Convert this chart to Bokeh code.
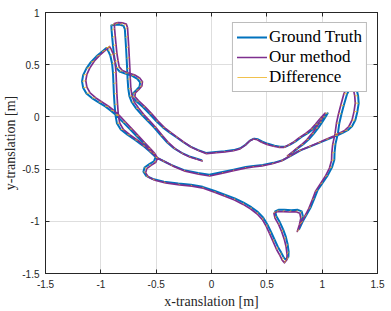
from bokeh.plotting import figure
from bokeh.models import FixedTicker, LinearAxis
from bokeh.embed import file_html
from bokeh.resources import INLINE

# ---------------- data ----------------
x_ticks = [-1.5, -1.0, -0.5, 0.0, 0.5, 1.0, 1.5]
x_tick_labels = ["-1.5", "-1", "-0.5", "0", "0.5", "1", "1.5"]
y_ticks = [-1.5, -1.0, -0.5, 0.0, 0.5, 1.0]
y_tick_labels = ["-1.5", "-1", "-0.5", "0", "0.5", "1"]

# first trajectory piece (end B -> C1 -> upper band -> tall loop -> end A)
path_gt_x = [0.700, 0.740, 0.780, 0.830, 0.880, 0.925, 0.965, 1.000, 1.030, 1.050,
             1.000, 0.960, 0.920, 0.870, 0.810, 0.760, 0.710, 0.670, 0.620, 0.570,
             0.510, 0.460, 0.420, 0.385, 0.350, 0.310, 0.260, 0.200, 0.120, 0.040,
             -0.050, -0.120, -0.190, -0.260, -0.320, -0.380, -0.440, -0.500, -0.560, -0.620,
             -0.680, -0.715, -0.710, -0.680, -0.650, -0.645, -0.670, -0.720, -0.780, -0.830,
             -0.860, -0.872, -0.882, -0.890, -0.897, -0.903, -0.905, -0.870, -0.825, -0.795,
             -0.783, -0.778, -0.772, -0.767, -0.762, -0.758, -0.752, -0.742, -0.720, -0.680,
             -0.630, -0.580, -0.520, -0.460, -0.400, -0.340, -0.270, -0.200, -0.140, -0.090]
path_gt_y = [-0.366, -0.335, -0.300, -0.262, -0.215, -0.160, -0.105, -0.050, 0.000, 0.035,
             -0.020, -0.070, -0.115, -0.156, -0.195, -0.235, -0.265, -0.285, -0.285, -0.275,
             -0.258, -0.238, -0.215, -0.208, -0.225, -0.265, -0.300, -0.318, -0.328, -0.336,
             -0.345, -0.318, -0.285, -0.238, -0.192, -0.148, -0.100, -0.040, 0.030, 0.095,
             0.150, 0.190, 0.225, 0.255, 0.290, 0.330, 0.365, 0.395, 0.415, 0.435,
             0.470, 0.530, 0.600, 0.680, 0.760, 0.830, 0.875, 0.885, 0.882, 0.872,
             0.840, 0.760, 0.660, 0.560, 0.460, 0.360, 0.270, 0.200, 0.140, 0.080,
             0.020, -0.035, -0.100, -0.175, -0.245, -0.300, -0.345, -0.378, -0.398, -0.414]
path_est_x = [0.686, 0.725, 0.764, 0.812, 0.861, 0.905, 0.944, 0.978, 1.007, 1.027,
              0.978, 0.939, 0.900, 0.851, 0.793, 0.744, 0.695, 0.656, 0.608, 0.559,
              0.501, 0.452, 0.413, 0.379, 0.345, 0.306, 0.257, 0.199, 0.121, 0.043,
              -0.045, -0.113, -0.181, -0.249, -0.308, -0.366, -0.425, -0.483, -0.542, -0.600,
              -0.658, -0.693, -0.688, -0.658, -0.629, -0.624, -0.649, -0.697, -0.756, -0.805,
              -0.834, -0.845, -0.855, -0.863, -0.870, -0.876, -0.878, -0.844, -0.800, -0.770,
              -0.759, -0.754, -0.748, -0.743, -0.738, -0.734, -0.729, -0.719, -0.698, -0.658,
              -0.610, -0.561, -0.503, -0.444, -0.386, -0.327, -0.259, -0.191, -0.132, -0.084]
path_est_y = [-0.373, -0.342, -0.306, -0.267, -0.219, -0.163, -0.107, -0.051, 0.000, 0.036,
              -0.020, -0.071, -0.117, -0.159, -0.199, -0.240, -0.270, -0.291, -0.291, -0.281,
              -0.263, -0.243, -0.219, -0.212, -0.230, -0.270, -0.306, -0.324, -0.335, -0.343,
              -0.352, -0.324, -0.291, -0.243, -0.196, -0.151, -0.102, -0.041, 0.031, 0.097,
              0.153, 0.194, 0.230, 0.260, 0.296, 0.337, 0.372, 0.403, 0.423, 0.444,
              0.479, 0.541, 0.612, 0.694, 0.775, 0.847, 0.893, 0.903, 0.900, 0.889,
              0.857, 0.775, 0.673, 0.571, 0.469, 0.367, 0.275, 0.204, 0.143, 0.082,
              0.020, -0.036, -0.102, -0.179, -0.250, -0.306, -0.352, -0.386, -0.406, -0.422]

# second trajectory piece (left cusp -> big left bulge -> long diagonal -> small loop
# -> right side -> C2 -> lower band -> back to left cusp)
loop_gt_x = [-0.950, -0.990, -1.040, -1.090, -1.130, -1.160, -1.170, -1.160, -1.130, -1.080,
             -1.020, -0.960, -0.910, -0.860, -0.800, -0.740, -0.680, -0.620, -0.570, -0.530,
             -0.505, -0.520, -0.565, -0.605, -0.615, -0.590, -0.530, -0.430, -0.300, -0.185,
             -0.080, 0.030, 0.120, 0.210, 0.290, 0.360, 0.420, 0.468, 0.505, 0.537,
             0.568, 0.600, 0.630, 0.652, 0.672, 0.695, 0.697, 0.688, 0.672, 0.648,
             0.618, 0.585, 0.575, 0.605, 0.660, 0.720, 0.780, 0.815, 0.825, 0.812,
             0.792, 0.825, 0.860, 0.898, 0.930, 0.960, 1.005, 1.050, 1.090, 1.110,
             1.112, 1.120, 1.142, 1.155, 1.175, 1.195, 1.225, 1.255, 1.277, 1.310,
             1.325, 1.330, 1.318, 1.300, 1.270, 1.232, 1.190, 1.142, 1.060, 0.988,
             0.900, 0.808, 0.720, 0.644, 0.560, 0.464, 0.380, 0.310, 0.200, 0.100,
             -0.020, -0.122, -0.248, -0.365, -0.440, -0.505, -0.560, -0.620, -0.690, -0.760,
             -0.820, -0.855, -0.868, -0.876, -0.882, -0.886, -0.890, -0.898, -0.915, -0.935,
             -0.950]
loop_gt_y = [0.660, 0.625, 0.580, 0.525, 0.465, 0.400, 0.340, 0.280, 0.225, 0.180,
             0.140, 0.100, 0.060, 0.015, -0.050, -0.115, -0.180, -0.245, -0.300, -0.345,
             -0.385, -0.425, -0.455, -0.485, -0.525, -0.565, -0.595, -0.620, -0.638, -0.650,
             -0.670, -0.710, -0.745, -0.780, -0.822, -0.865, -0.912, -0.965, -1.030, -1.100,
             -1.172, -1.245, -1.300, -1.345, -1.370, -1.340, -1.290, -1.220, -1.150, -1.080,
             -1.010, -0.950, -0.905, -0.890, -0.890, -0.893, -0.890, -0.905, -0.950, -1.010,
             -1.075, -1.000, -0.935, -0.862, -0.780, -0.700, -0.630, -0.560, -0.480, -0.410,
             -0.340, -0.260, -0.160, -0.060, 0.030, 0.110, 0.220, 0.280, 0.305, 0.270,
             0.200, 0.130, 0.050, -0.030, -0.090, -0.127, -0.150, -0.175, -0.210, -0.242,
             -0.280, -0.318, -0.370, -0.414, -0.440, -0.460, -0.470, -0.480, -0.505, -0.528,
             -0.555, -0.538, -0.510, -0.460, -0.420, -0.385, -0.330, -0.275, -0.220, -0.170,
             -0.120, -0.060, 0.020, 0.120, 0.220, 0.320, 0.420, 0.510, 0.590, 0.635,
             0.660]
loop_est_x = [-0.921, -0.960, -1.009, -1.058, -1.097, -1.126, -1.136, -1.126, -1.097, -1.048,
              -0.990, -0.931, -0.882, -0.834, -0.775, -0.717, -0.658, -0.600, -0.551, -0.512,
              -0.488, -0.503, -0.546, -0.585, -0.595, -0.571, -0.512, -0.415, -0.288, -0.176,
              -0.074, 0.033, 0.121, 0.208, 0.286, 0.355, 0.413, 0.460, 0.496, 0.527,
              0.557, 0.588, 0.618, 0.639, 0.659, 0.681, 0.683, 0.674, 0.658, 0.635,
              0.606, 0.574, 0.564, 0.593, 0.647, 0.705, 0.764, 0.798, 0.807, 0.795,
              0.775, 0.807, 0.842, 0.879, 0.910, 0.939, 0.983, 1.027, 1.066, 1.085,
              1.087, 1.095, 1.116, 1.129, 1.148, 1.168, 1.197, 1.226, 1.248, 1.280,
              1.294, 1.299, 1.288, 1.270, 1.241, 1.204, 1.163, 1.116, 1.036, 0.966,
              0.880, 0.791, 0.705, 0.631, 0.549, 0.456, 0.374, 0.306, 0.199, 0.101,
              -0.016, -0.115, -0.238, -0.352, -0.425, -0.488, -0.541, -0.600, -0.668, -0.736,
              -0.795, -0.829, -0.842, -0.849, -0.855, -0.859, -0.863, -0.871, -0.887, -0.907,
              -0.921]
loop_est_y = [0.673, 0.638, 0.592, 0.536, 0.474, 0.408, 0.347, 0.286, 0.230, 0.184,
              0.143, 0.102, 0.061, 0.015, -0.051, -0.117, -0.184, -0.250, -0.306, -0.352,
              -0.393, -0.434, -0.464, -0.495, -0.536, -0.576, -0.607, -0.632, -0.651, -0.663,
              -0.683, -0.724, -0.760, -0.796, -0.838, -0.882, -0.930, -0.984, -1.051, -1.122,
              -1.195, -1.270, -1.326, -1.372, -1.397, -1.367, -1.316, -1.244, -1.173, -1.102,
              -1.030, -0.969, -0.923, -0.908, -0.908, -0.911, -0.908, -0.923, -0.969, -1.030,
              -1.097, -1.020, -0.954, -0.879, -0.796, -0.714, -0.643, -0.571, -0.490, -0.418,
              -0.347, -0.265, -0.163, -0.061, 0.031, 0.112, 0.224, 0.286, 0.311, 0.275,
              0.204, 0.133, 0.051, -0.031, -0.092, -0.130, -0.153, -0.179, -0.214, -0.247,
              -0.286, -0.324, -0.377, -0.422, -0.449, -0.469, -0.479, -0.490, -0.515, -0.539,
              -0.566, -0.549, -0.520, -0.469, -0.428, -0.393, -0.337, -0.281, -0.224, -0.173,
              -0.122, -0.061, 0.020, 0.122, 0.224, 0.326, 0.428, 0.520, 0.602, 0.648,
              0.673]

# ---------------- figure ----------------
AX = "#262626"
p = figure(width=391, height=311, x_range=(-1.5, 1.5), y_range=(-1.5, 1.0),
           output_backend="svg", toolbar_location=None,
           min_border_left=44, min_border_right=14, min_border_top=12, min_border_bottom=37)
p.background_fill_color = "white"
p.border_fill_color = "white"
p.outline_line_color = AX
p.outline_line_width = 1

p.multi_line([path_gt_x, loop_gt_x], [path_gt_y, loop_gt_y], line_color="#0072BD",
             line_width=2.0, line_join="round", line_cap="round", legend_label="Ground Truth")
p.multi_line([path_est_x, loop_est_x], [path_est_y, loop_est_y], line_color="#7E2F8E",
             line_width=1.7, line_join="round", line_cap="round", legend_label="Our method")
p.segment(x0=path_gt_x + loop_gt_x, y0=path_gt_y + loop_gt_y,
          x1=path_est_x + loop_est_x, y1=path_est_y + loop_est_y,
          line_color="#EDB120", line_width=1, line_alpha=0.8, legend_label="Difference")

# axes
p.xaxis.ticker = FixedTicker(ticks=x_ticks)
p.yaxis.ticker = FixedTicker(ticks=y_ticks)
p.xaxis.major_label_overrides = {v: s for v, s in zip(x_ticks, x_tick_labels)}
p.yaxis.major_label_overrides = {v: s for v, s in zip(y_ticks, y_tick_labels)}
for ax in (p.xaxis, p.yaxis):
    ax.axis_line_color = AX
    ax.major_tick_line_color = AX
    ax.major_tick_in = 4
    ax.major_tick_out = 0
    ax.minor_tick_line_color = None
    ax.major_label_text_font = "Liberation Sans"
    ax.major_label_text_font_size = "10px"
    ax.major_label_text_color = AX
    ax.major_label_standoff = 6
    ax.axis_label_text_font = "Liberation Serif"
    ax.axis_label_text_font_style = "normal"
    ax.axis_label_text_font_size = "14px"
    ax.axis_label_text_color = AX
p.xaxis.axis_label = "x-translation [m]"
p.xaxis.axis_label_standoff = 3
p.yaxis.axis_label = "y-translation [m]"
p.yaxis.axis_label_standoff = 1

# box ticks on top and right (no labels)
top_ax = LinearAxis(ticker=FixedTicker(ticks=x_ticks),
                    major_label_overrides={v: "" for v in x_ticks})
right_ax = LinearAxis(ticker=FixedTicker(ticks=y_ticks),
                      major_label_overrides={v: "" for v in y_ticks})
for ax in (top_ax, right_ax):
    ax.axis_line_color = AX
    ax.major_tick_line_color = AX
    ax.major_tick_in = 4
    ax.major_tick_out = 0
    ax.minor_tick_line_color = None
    ax.major_label_text_font_size = "1px"
    ax.major_label_standoff = 0
p.add_layout(top_ax, "above")
p.add_layout(right_ax, "right")

p.grid.grid_line_color = "#dedede"
p.grid.grid_line_width = 1

# legend
lg = p.legend[0]
lg.location = "top_right"
lg.margin = 10
lg.padding = 4
lg.spacing = 0
lg.label_height = 18
lg.glyph_height = 18
lg.glyph_width = 30
lg.label_standoff = 2
lg.label_text_font = "Liberation Serif"
lg.label_text_font_size = "17px"
lg.label_text_color = "black"
lg.border_line_color = "#7a7a7a"
lg.border_line_width = 1
lg.background_fill_color = "white"
lg.background_fill_alpha = 1.0

open("out.html", "w").write(file_html(p, INLINE))
